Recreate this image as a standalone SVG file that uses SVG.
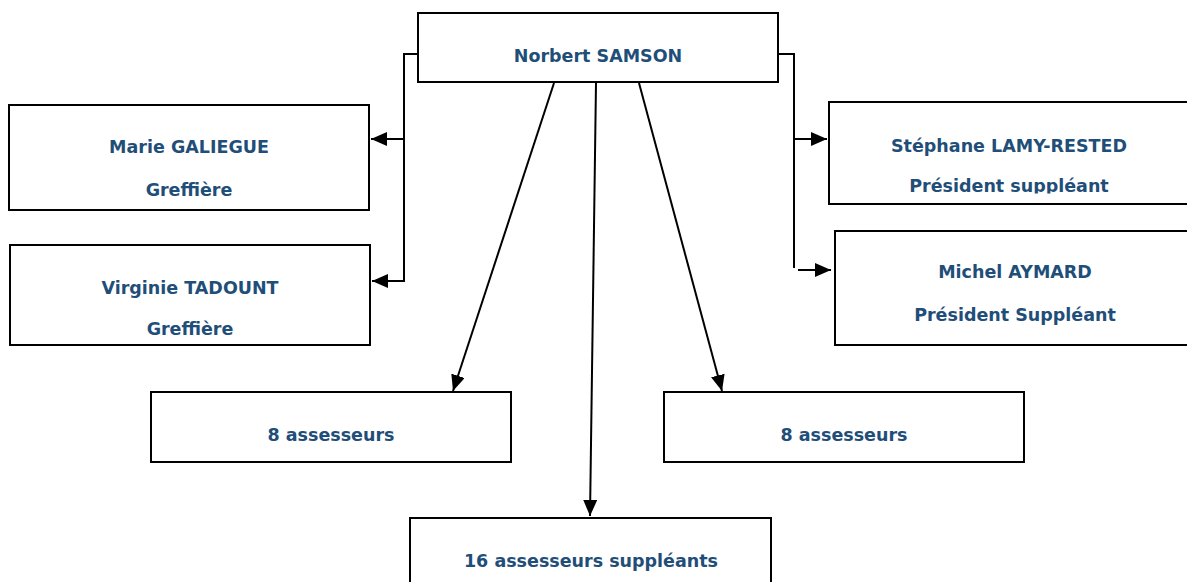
<svg xmlns="http://www.w3.org/2000/svg" width="1187" height="582" viewBox="0 0 1187 582">
<style>
.box{fill:#fff;stroke:#000;stroke-width:2}
.t{font-family:"DejaVu Sans","Liberation Sans",sans-serif;font-weight:bold;font-size:17.5px;fill:#1f4e79;text-anchor:middle}
.c{fill:none;stroke:#000;stroke-width:2}
</style>
<defs>
<marker id="ah" viewBox="0 0 16 14" refX="16" refY="7" markerWidth="16" markerHeight="14" markerUnits="userSpaceOnUse" orient="auto">
<path d="M0,0 L16,7 L0,14 Z" fill="#000"/>
</marker>
<clipPath id="clipS"><rect x="829" y="102" width="400" height="91.5"/></clipPath>
</defs>
<rect width="1187" height="582" fill="#fff"/>
<g id="connectors">
<path class="c" d="M418,54 H404 V281 H372" marker-end="url(#ah)"/>
<path class="c" d="M404,139 H371" marker-end="url(#ah)"/>
<path class="c" d="M778,54 H794 V268"/>
<path class="c" d="M794,139 H827" marker-end="url(#ah)"/>
<path class="c" d="M798,270 H831" marker-end="url(#ah)"/>
<path class="c" d="M554,83 L453,391" marker-end="url(#ah)"/>
<path class="c" d="M639,83 L722,391" marker-end="url(#ah)"/>
<path class="c" d="M596,83 L590,516" marker-end="url(#ah)"/>
</g>
<g id="n-samson">
<rect class="box" x="418" y="13" width="360" height="69"/>
<text class="t" x="598" y="62">Norbert SAMSON</text>
</g>
<g id="n-galiegue">
<rect class="box" x="9" y="105" width="360" height="105"/>
<text class="t" x="189" y="153">Marie GALIEGUE</text>
<text class="t" x="189" y="196">Greffière</text>
</g>
<g id="n-tadount">
<rect class="box" x="10" y="245" width="360" height="100"/>
<text class="t" x="190" y="294">Virginie TADOUNT</text>
<text class="t" x="190" y="335">Greffière</text>
</g>
<g id="n-lamy">
<rect class="box" x="829" y="102" width="380" height="102"/>
<text class="t" x="1009" y="152">Stéphane LAMY-RESTED</text>
<text class="t" x="1009" y="192" clip-path="url(#clipS)">Président suppléant</text>
</g>
<g id="n-aymard">
<rect class="box" x="835" y="231" width="380" height="114"/>
<text class="t" x="1015" y="278">Michel AYMARD</text>
<text class="t" x="1015" y="321">Président Suppléant</text>
</g>
<g id="n-ass1">
<rect class="box" x="151" y="392" width="360" height="70"/>
<text class="t" x="331" y="441">8 assesseurs</text>
</g>
<g id="n-ass2">
<rect class="box" x="664" y="392" width="360" height="70"/>
<text class="t" x="844" y="441">8 assesseurs</text>
</g>
<g id="n-ass3">
<rect class="box" x="410" y="518" width="361" height="80"/>
<text class="t" x="591" y="567">16 assesseurs suppléants</text>
</g>
</svg>
